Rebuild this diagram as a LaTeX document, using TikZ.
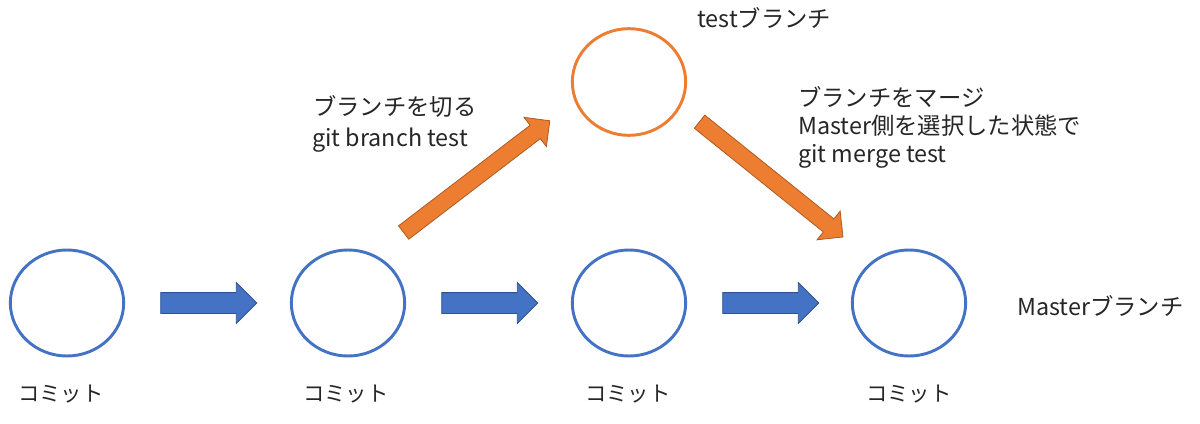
\documentclass[tikz,border=0pt]{standalone}
\usepackage{fontspec}
\setmainfont{Noto Sans CJK JP}
\usetikzlibrary{shapes.geometric,shapes.arrows}
\definecolor{cblue}{HTML}{4472C4}
\definecolor{cbluedark}{HTML}{2F528F}
\definecolor{corange}{HTML}{ED7D31}
\definecolor{corangedark}{HTML}{AE5A21}
\definecolor{ctext}{HTML}{262626}
\tikzset{
  commit/.style={ellipse, draw=cblue, line width=2.2pt, minimum width=85pt, minimum height=79.5pt, inner sep=0pt},
  testcommit/.style={commit, draw=corange, minimum height=80pt},
  bluearrow/.style={single arrow, draw=cbluedark, fill=cblue, line width=0.6pt, minimum height=72pt, inner xsep=0pt, inner ysep=7.5pt, single arrow head extend=7.5pt, single arrow tip angle=90},
  orangearrow/.style={single arrow, draw=corangedark, fill=corange, line width=0.6pt, minimum height=138pt, inner xsep=0pt, inner ysep=6pt, single arrow head extend=7.5pt, single arrow tip angle=90},
  lbl/.style={anchor=base west, inner sep=0pt, text=ctext, font=\fontsize{17.5}{21.5}\selectfont, align=left},
  klbl/.style={lbl, font=\fontsize{16}{21.5}\selectfont},
}
\begin{document}
\begin{tikzpicture}[x=0.75pt, y=-0.75pt]
\useasboundingbox (0,0) rectangle (1200,424);
% commits
\node[commit] (c1) at (67,303) {};
\node[commit] (c2) at (348,303) {};
\node[commit] (c3) at (629,303) {};
\node[commit] (c4) at (909,303) {};
\node[testcommit] (t1) at (629,82) {};
% blue block arrows
\node[bluearrow] (a1) at (203.5,303) {};
\node[bluearrow] (a2) at (484.5,303) {};
\node[bluearrow] (a3) at (765.5,303) {};
% orange block arrows
\node[orangearrow, rotate=37.4] (b1) at (473.4,179.2) {};
\node[orangearrow, rotate=-38.8] (b2) at (768,176.7) {};
% labels
\node[lbl] (ltest) at (697,28) {testブランチ};
\node[lbl] (lbr1) at (313,116) {ブランチを切る};
\node[lbl] (lbr2) at (312,147) {git branch test};
\node[lbl] (lmg1) at (798,107) {ブランチをマージ};
\node[lbl] (lmg2) at (798,135) {Master側を選択した状態で};
\node[lbl] (lmg3) at (798,163) {git merge test};
\node[lbl] (lmaster) at (1017,315) {Masterブランチ};
\node[klbl] (k1) at (18,401) {コミット};
\node[klbl] (k2) at (303,401) {コミット};
\node[klbl] (k3) at (585,401) {コミット};
\node[klbl] (k4) at (866,401) {コミット};
\end{tikzpicture}
\end{document}
